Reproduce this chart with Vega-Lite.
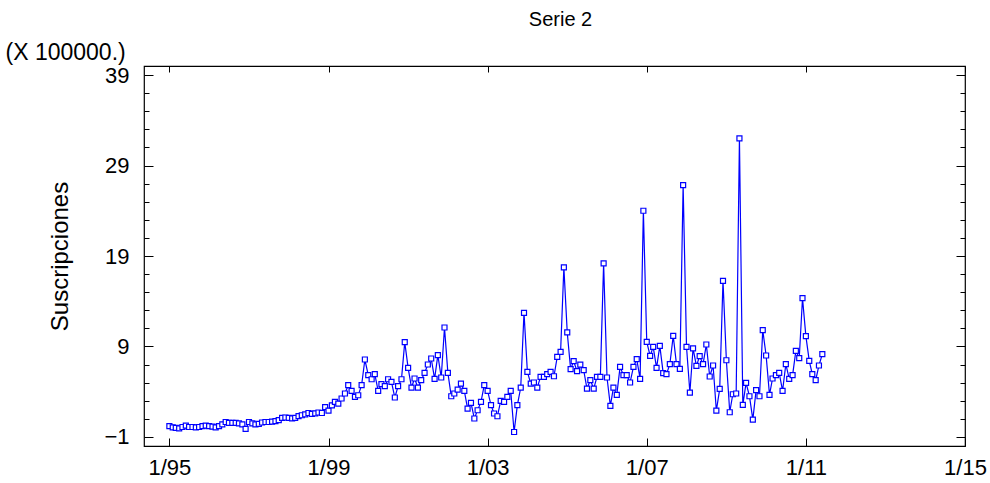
{
  "$schema": "https://vega.github.io/schema/vega-lite/v6.json",
  "width": 821,
  "height": 380,
  "autosize": "none",
  "padding": {"left": 144, "top": 66, "right": 25, "bottom": 37},
  "background": "white",
  "config": {
    "view": {"stroke": "black", "strokeWidth": 1.2},
    "axis": {
      "domain": false,
      "grid": false,
      "tickColor": "black",
      "tickWidth": 1,
      "labelColor": "black",
      "labelFont": "Liberation Sans",
      "labelFontSize": 22,
      "titleFont": "Liberation Sans",
      "titleFontSize": 23,
      "titleFontWeight": "normal",
      "titleColor": "black",
      "labelOverlap": false,
      "labelFlush": false,
      "labelBound": false
    }
  },
  "data": {
    "values": [
      {"mes": "1995-01-01", "v": 0.2}, {"mes": "1995-02-01", "v": 0.05}, {"mes": "1995-03-01", "v": 0.0}, {"mes": "1995-04-01", "v": -0.05},
      {"mes": "1995-05-01", "v": 0.1}, {"mes": "1995-06-01", "v": 0.25}, {"mes": "1995-07-01", "v": 0.1}, {"mes": "1995-08-01", "v": 0.1},
      {"mes": "1995-09-01", "v": 0.05}, {"mes": "1995-10-01", "v": 0.1}, {"mes": "1995-11-01", "v": 0.2}, {"mes": "1995-12-01", "v": 0.25},
      {"mes": "1996-01-01", "v": 0.2}, {"mes": "1996-02-01", "v": 0.15}, {"mes": "1996-03-01", "v": 0.05}, {"mes": "1996-04-01", "v": 0.2},
      {"mes": "1996-05-01", "v": 0.4}, {"mes": "1996-06-01", "v": 0.65}, {"mes": "1996-07-01", "v": 0.55}, {"mes": "1996-08-01", "v": 0.55},
      {"mes": "1996-09-01", "v": 0.55}, {"mes": "1996-10-01", "v": 0.5}, {"mes": "1996-11-01", "v": 0.4}, {"mes": "1996-12-01", "v": -0.1},
      {"mes": "1997-01-01", "v": 0.65}, {"mes": "1997-02-01", "v": 0.5}, {"mes": "1997-03-01", "v": 0.4}, {"mes": "1997-04-01", "v": 0.45},
      {"mes": "1997-05-01", "v": 0.6}, {"mes": "1997-06-01", "v": 0.65}, {"mes": "1997-07-01", "v": 0.65}, {"mes": "1997-08-01", "v": 0.7},
      {"mes": "1997-09-01", "v": 0.75}, {"mes": "1997-10-01", "v": 0.85}, {"mes": "1997-11-01", "v": 1.1}, {"mes": "1997-12-01", "v": 1.15},
      {"mes": "1998-01-01", "v": 1.1}, {"mes": "1998-02-01", "v": 1.05}, {"mes": "1998-03-01", "v": 1.1}, {"mes": "1998-04-01", "v": 1.3},
      {"mes": "1998-05-01", "v": 1.4}, {"mes": "1998-06-01", "v": 1.5}, {"mes": "1998-07-01", "v": 1.65}, {"mes": "1998-08-01", "v": 1.55},
      {"mes": "1998-09-01", "v": 1.6}, {"mes": "1998-10-01", "v": 1.7}, {"mes": "1998-11-01", "v": 1.65}, {"mes": "1998-12-01", "v": 2.3},
      {"mes": "1999-01-01", "v": 1.9}, {"mes": "1999-02-01", "v": 2.5}, {"mes": "1999-03-01", "v": 2.87}, {"mes": "1999-04-01", "v": 2.69},
      {"mes": "1999-05-01", "v": 3.25}, {"mes": "1999-06-01", "v": 3.8}, {"mes": "1999-07-01", "v": 4.72}, {"mes": "1999-08-01", "v": 4.09},
      {"mes": "1999-09-01", "v": 3.43}, {"mes": "1999-10-01", "v": 3.61}, {"mes": "1999-11-01", "v": 4.72}, {"mes": "1999-12-01", "v": 7.56},
      {"mes": "2000-01-01", "v": 5.83}, {"mes": "2000-02-01", "v": 5.38}, {"mes": "2000-03-01", "v": 5.94}, {"mes": "2000-04-01", "v": 4.09},
      {"mes": "2000-05-01", "v": 4.83}, {"mes": "2000-06-01", "v": 4.61}, {"mes": "2000-07-01", "v": 5.38}, {"mes": "2000-08-01", "v": 5.09},
      {"mes": "2000-09-01", "v": 3.36}, {"mes": "2000-10-01", "v": 4.61}, {"mes": "2000-11-01", "v": 5.38}, {"mes": "2000-12-01", "v": 9.48},
      {"mes": "2001-01-01", "v": 6.63}, {"mes": "2001-02-01", "v": 4.46}, {"mes": "2001-03-01", "v": 5.46}, {"mes": "2001-04-01", "v": 4.46},
      {"mes": "2001-05-01", "v": 5.27}, {"mes": "2001-06-01", "v": 6.08}, {"mes": "2001-07-01", "v": 7.01}, {"mes": "2001-08-01", "v": 7.67},
      {"mes": "2001-09-01", "v": 5.42}, {"mes": "2001-10-01", "v": 8.04}, {"mes": "2001-11-01", "v": 5.57}, {"mes": "2001-12-01", "v": 11.1},
      {"mes": "2002-01-01", "v": 6.08}, {"mes": "2002-02-01", "v": 3.5}, {"mes": "2002-03-01", "v": 3.8}, {"mes": "2002-04-01", "v": 4.24},
      {"mes": "2002-05-01", "v": 4.9}, {"mes": "2002-06-01", "v": 4.09}, {"mes": "2002-07-01", "v": 2.14}, {"mes": "2002-08-01", "v": 2.76},
      {"mes": "2002-09-01", "v": 1.04}, {"mes": "2002-10-01", "v": 1.95}, {"mes": "2002-11-01", "v": 2.87}, {"mes": "2002-12-01", "v": 4.72},
      {"mes": "2003-01-01", "v": 4.09}, {"mes": "2003-02-01", "v": 2.51}, {"mes": "2003-03-01", "v": 1.59}, {"mes": "2003-04-01", "v": 1.29},
      {"mes": "2003-05-01", "v": 2.98}, {"mes": "2003-06-01", "v": 2.87}, {"mes": "2003-07-01", "v": 3.43}, {"mes": "2003-08-01", "v": 4.09},
      {"mes": "2003-09-01", "v": -0.45}, {"mes": "2003-10-01", "v": 2.51}, {"mes": "2003-11-01", "v": 4.46}, {"mes": "2003-12-01", "v": 12.72},
      {"mes": "2004-01-01", "v": 6.19}, {"mes": "2004-02-01", "v": 4.9}, {"mes": "2004-03-01", "v": 5.02}, {"mes": "2004-04-01", "v": 4.46},
      {"mes": "2004-05-01", "v": 5.64}, {"mes": "2004-06-01", "v": 5.64}, {"mes": "2004-07-01", "v": 5.94}, {"mes": "2004-08-01", "v": 6.19},
      {"mes": "2004-09-01", "v": 5.71}, {"mes": "2004-10-01", "v": 7.85}, {"mes": "2004-11-01", "v": 8.4}, {"mes": "2004-12-01", "v": 17.74},
      {"mes": "2005-01-01", "v": 10.55}, {"mes": "2005-02-01", "v": 6.49}, {"mes": "2005-03-01", "v": 7.37}, {"mes": "2005-04-01", "v": 6.27},
      {"mes": "2005-05-01", "v": 7.0}, {"mes": "2005-06-01", "v": 6.38}, {"mes": "2005-07-01", "v": 4.35}, {"mes": "2005-08-01", "v": 5.27},
      {"mes": "2005-09-01", "v": 4.35}, {"mes": "2005-10-01", "v": 5.64}, {"mes": "2005-11-01", "v": 5.64}, {"mes": "2005-12-01", "v": 18.18},
      {"mes": "2006-01-01", "v": 5.57}, {"mes": "2006-02-01", "v": 2.43}, {"mes": "2006-03-01", "v": 4.46}, {"mes": "2006-04-01", "v": 3.65},
      {"mes": "2006-05-01", "v": 6.74}, {"mes": "2006-06-01", "v": 5.83}, {"mes": "2006-07-01", "v": 5.83}, {"mes": "2006-08-01", "v": 5.02},
      {"mes": "2006-09-01", "v": 6.74}, {"mes": "2006-10-01", "v": 7.6}, {"mes": "2006-11-01", "v": 5.42}, {"mes": "2006-12-01", "v": 24.0},
      {"mes": "2007-01-01", "v": 9.51}, {"mes": "2007-02-01", "v": 7.96}, {"mes": "2007-03-01", "v": 8.96}, {"mes": "2007-04-01", "v": 6.63},
      {"mes": "2007-05-01", "v": 9.07}, {"mes": "2007-06-01", "v": 6.05}, {"mes": "2007-07-01", "v": 5.94}, {"mes": "2007-08-01", "v": 7.04},
      {"mes": "2007-09-01", "v": 10.17}, {"mes": "2007-10-01", "v": 7.04}, {"mes": "2007-11-01", "v": 6.52}, {"mes": "2007-12-01", "v": 26.84},
      {"mes": "2008-01-01", "v": 8.96}, {"mes": "2008-02-01", "v": 3.91}, {"mes": "2008-03-01", "v": 8.78}, {"mes": "2008-04-01", "v": 6.85},
      {"mes": "2008-05-01", "v": 7.93}, {"mes": "2008-06-01", "v": 7.04}, {"mes": "2008-07-01", "v": 9.22}, {"mes": "2008-08-01", "v": 5.68},
      {"mes": "2008-09-01", "v": 6.9}, {"mes": "2008-10-01", "v": 1.9}, {"mes": "2008-11-01", "v": 4.31}, {"mes": "2008-12-01", "v": 16.26},
      {"mes": "2009-01-01", "v": 7.48}, {"mes": "2009-02-01", "v": 1.73}, {"mes": "2009-03-01", "v": 3.72}, {"mes": "2009-04-01", "v": 3.8},
      {"mes": "2009-05-01", "v": 32.0}, {"mes": "2009-06-01", "v": 2.54}, {"mes": "2009-07-01", "v": 4.97}, {"mes": "2009-08-01", "v": 3.5},
      {"mes": "2009-09-01", "v": 0.92}, {"mes": "2009-10-01", "v": 4.17}, {"mes": "2009-11-01", "v": 3.5}, {"mes": "2009-12-01", "v": 10.8},
      {"mes": "2010-01-01", "v": 8.0}, {"mes": "2010-02-01", "v": 3.65}, {"mes": "2010-03-01", "v": 5.46}, {"mes": "2010-04-01", "v": 5.83},
      {"mes": "2010-05-01", "v": 6.08}, {"mes": "2010-06-01", "v": 4.09}, {"mes": "2010-07-01", "v": 7.04}, {"mes": "2010-08-01", "v": 5.42},
      {"mes": "2010-09-01", "v": 5.83}, {"mes": "2010-10-01", "v": 8.51}, {"mes": "2010-11-01", "v": 7.71}, {"mes": "2010-12-01", "v": 14.34},
      {"mes": "2011-01-01", "v": 10.14}, {"mes": "2011-02-01", "v": 7.41}, {"mes": "2011-03-01", "v": 5.94}, {"mes": "2011-04-01", "v": 5.27},
      {"mes": "2011-05-01", "v": 6.9}, {"mes": "2011-06-01", "v": 8.15}
    ]
  },
  "layer": [
    {
      "mark": {"type": "line", "color": "#0000ff", "strokeWidth": 1.2},
      "encoding": {
        "x": {
          "field": "mes", "type": "temporal",
          "scale": {"type": "utc", "domain": [{"year": 1994, "month": 5, "date": 13, "utc": true}, {"year": 2015, "month": 1, "date": 1, "utc": true}]},
          "axis": {
            "orient": "bottom", "title": null,
            "values": [{"year": 1995, "month": 1, "date": 1, "utc": true}, {"year": 1999, "month": 1, "date": 1, "utc": true}, {"year": 2003, "month": 1, "date": 1, "utc": true}, {"year": 2007, "month": 1, "date": 1, "utc": true}, {"year": 2011, "month": 1, "date": 1, "utc": true}, {"year": 2015, "month": 1, "date": 1, "utc": true}],
            "labelExpr": "utcFormat(datum.value, '%-m/%y')",
            "tickSize": -8, "labelPadding": 19
          }
        },
        "y": {
          "field": "v", "type": "quantitative",
          "scale": {"domain": [-2, 40], "zero": false, "nice": false},
          "axis": {
            "orient": "left",
            "values": [-1, 1, 3, 5, 7, 9, 11, 13, 15, 17, 19, 21, 23, 25, 27, 29, 31, 33, 35, 37, 39],
            "labelExpr": "(datum.value + 1) % 10 == 0 ? datum.label : ''",
            "tickSize": {"condition": {"test": "(datum.value + 1) % 10 == 0", "value": -9}, "value": -5},
            "labelPadding": 24, "labelBaseline": "middle",
            "title": "Suscripciones", "titleFontSize": 24, "titleX": -84, "titleY": 190, "titleAngle": -90,
            "titleAlign": "center", "titleBaseline": "middle"
          }
        }
      }
    },
    {
      "mark": {"type": "point", "shape": "square", "filled": true, "fill": "white", "stroke": "#0000ff", "strokeWidth": 1.2, "size": 25, "opacity": 1},
      "encoding": {
        "x": {
          "field": "mes", "type": "temporal",
          "scale": {"type": "utc", "domain": [{"year": 1994, "month": 5, "date": 13, "utc": true}, {"year": 2015, "month": 1, "date": 1, "utc": true}]},
          "axis": {
            "orient": "top", "labels": false,
            "values": [{"year": 1995, "month": 1, "date": 1, "utc": true}, {"year": 1999, "month": 1, "date": 1, "utc": true}, {"year": 2003, "month": 1, "date": 1, "utc": true}, {"year": 2007, "month": 1, "date": 1, "utc": true}, {"year": 2011, "month": 1, "date": 1, "utc": true}, {"year": 2015, "month": 1, "date": 1, "utc": true}],
            "tickSize": -6,
            "title": "Serie 2", "titleFontSize": 20, "titleX": 416, "titleY": -41, "titleAlign": "center", "titleBaseline": "alphabetic"
          }
        },
        "y": {
          "field": "v", "type": "quantitative",
          "scale": {"domain": [-2, 40], "zero": false, "nice": false},
          "axis": {
            "orient": "right", "labels": false,
            "values": [-1, 1, 3, 5, 7, 9, 11, 13, 15, 17, 19, 21, 23, 25, 27, 29, 31, 33, 35, 37, 39],
            "tickSize": {"condition": {"test": "(datum.value + 1) % 10 == 0", "value": -9}, "value": -5},
            "title": "(X 100000.)", "titleFontSize": 23, "titleX": -960, "titleY": -7, "titleAngle": 0,
            "titleAlign": "left", "titleBaseline": "alphabetic"
          }
        }
      }
    }
  ],
  "resolve": {"axis": {"x": "independent", "y": "independent"}}
}
